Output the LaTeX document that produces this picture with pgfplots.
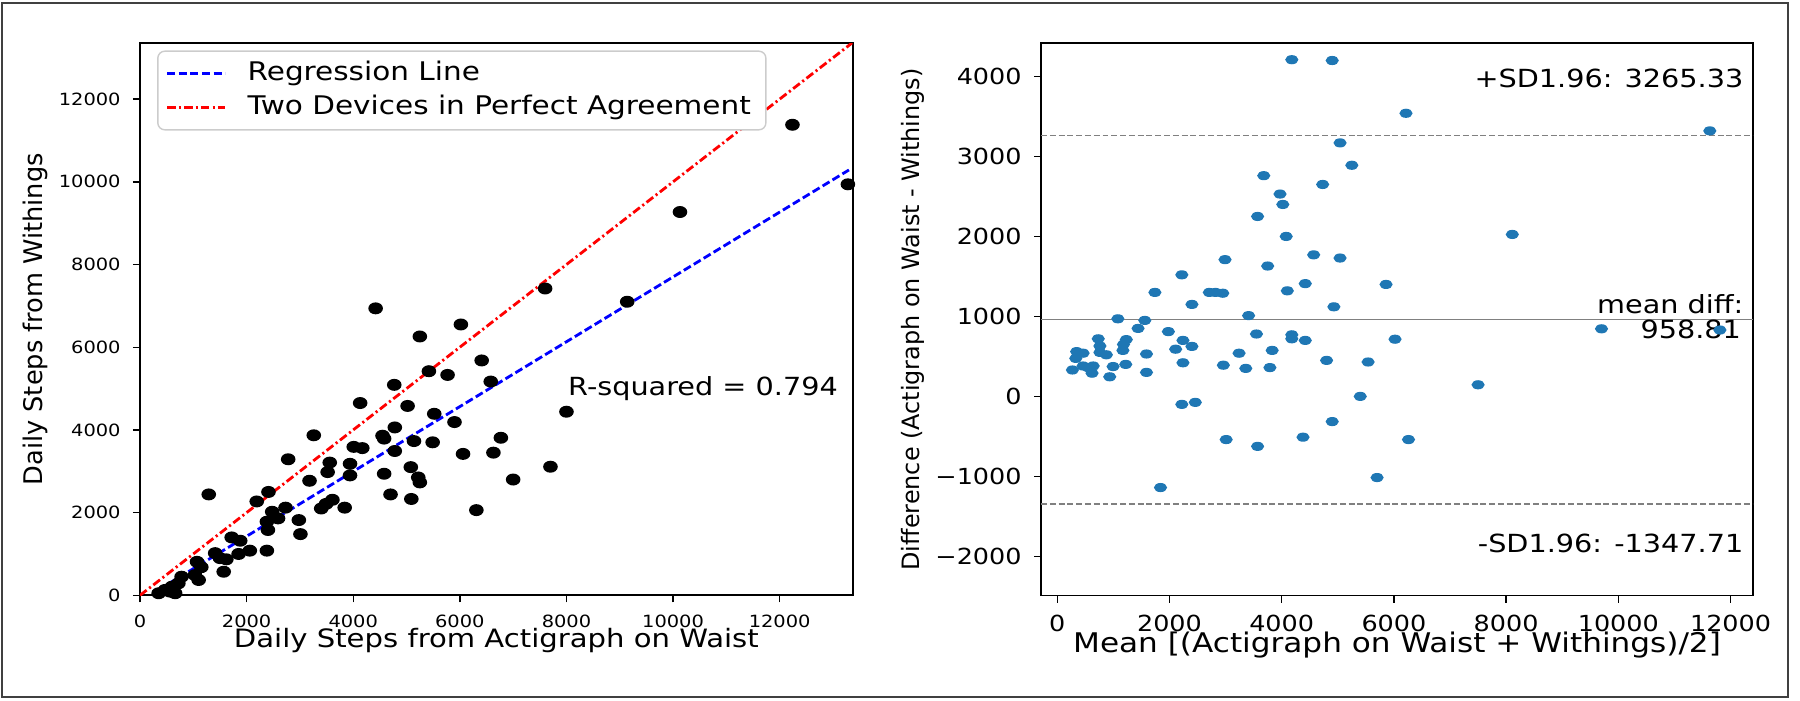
\documentclass[border=0pt]{standalone}
\usepackage{fontspec}
\setmainfont{DejaVu Sans}[FakeStretch=1.15]
\newfontfamily\ylabfont{DejaVu Sans}
\usepackage{pgfplots}
\pgfplotsset{compat=1.18}
\definecolor{mplblue}{HTML}{1F77B4}

\begin{document}
\begin{tikzpicture}
\useasboundingbox (0,0) rectangle (18,7);
\draw[line width=0.7pt, black!75] (0.02,0.03) rectangle (17.88,6.97);

% ---- left: Withings vs Actigraph ----
\begin{axis}[
  at={(1.40cm,1.047cm)}, anchor=south west,
  scale only axis, width=7.127cm, height=5.52cm,
  xmin=0, xmax=13370, ymin=0, ymax=13350,
  scaled ticks=false,
  xtick={0,2000,...,12000}, ytick={0,2000,...,12000},
  xticklabels={0,2000,4000,6000,8000,10000,12000},
  yticklabels={0,2000,4000,6000,8000,10000,12000},
  tick align=outside, major tick length=0.07cm,
  tick style={black, line width=0.4pt},
  xtick pos=bottom, ytick pos=left,
  axis line style={line width=0.5pt},
  ticklabel style={font=\fontsize{4.8}{5}\selectfont},
  xlabel={Daily Steps from Actigraph on Waist},
  xlabel style={at={(axis description cs:0.5,-0.094)}, anchor=base, font=\fontsize{7.2}{8}\selectfont},
  ylabel={Daily Steps from Withings},
  ylabel style={at={(axis description cs:-0.147,0.5)}, anchor=center, font=\ylabfont\fontsize{7.3}{8}\selectfont},
  legend cell align=left,
  legend image code/.code={\draw[#1] (0cm,0cm) -- (0.58cm,0cm); \path (0.72cm,0cm);},
  legend style={at={(0.024,0.987)}, anchor=north west, draw=black!20, rounded corners=2pt,
    fill=white, font=\fontsize{7.3}{8}\selectfont, inner xsep=0.08cm, inner ysep=0.03cm,
    row sep=-0.05cm},
]
\addplot[only marks, mark=*, mark size=1.5pt, mark options={fill=black, draw=black, xscale=1.25}, forget plot] coordinates {
(5250,6260) (5420,5420) (5770,5330) (6410,5680) (6580,5170) (4770,5090) (4130,4650)
(5020,4580) (5520,4390) (5900,4190) (4780,4060) (3260,3870) (4550,3860) (4580,3790)
(5140,3730) (5490,3700) (4010,3590) (4170,3560) (4780,3490) (6060,3420) (6630,3450)
(6770,3810) (2780,3290) (3560,3210) (3520,2980) (3940,3180) (3940,2900) (5080,3100)
(4580,2940) (5220,2850) (5250,2730) (7000,2800) (3180,2770) (4700,2440) (5090,2330)
(6310,2060) (1290,2440) (2190,2270) (2410,2500) (2480,2020) (2730,2120) (2590,1860)
(2380,1780) (2400,1580) (3400,2100) (3490,2210) (3610,2310) (3840,2120) (2980,1820)
(3010,1480) (2380,1080) (1720,1400) (1880,1320) (1850,1000) (2060,1080) (1410,1020)
(1500,900) (1620,870) (1570,570) (1070,810) (1150,680) (1100,370) (1030,490)
(780,450) (720,290) (600,210) (470,130) (350,50) (660,50) (560,90)
(4420,6940) (6020,6550) (12240,11380) (13280,9940) (10130,9270) (7600,7420)
(9140,7100) (8000,4440) (7700,3110)
};
\addplot[blue, line width=0.8pt, dash pattern=on 2.3pt off 1pt] coordinates {(350,134) (13300,10287)};
\addlegendentry{Regression Line}
\addplot[red, line width=0.8pt, dash pattern=on 2.4pt off 0.9pt on 0.6pt off 0.9pt] coordinates {(0,0) (13370,13370)};
\addlegendentry{Two Devices in Perfect Agreement}
\node[anchor=base west, inner sep=0pt, font=\fontsize{7.1}{8}\selectfont] at (axis cs:8020,4843) {R-squared = 0.794};
\end{axis}

% ---- right: Bland-Altman ----
\begin{axis}[
  at={(10.41cm,1.045cm)}, anchor=south west,
  scale only axis, width=7.12cm, height=5.522cm,
  xmin=-290, xmax=12400, ymin=-2490, ymax=4415,
  scaled ticks=false,
  xtick={0,2000,...,12000}, ytick={-2000,-1000,...,4000},
  xticklabels={0,2000,4000,6000,8000,10000,12000},
  yticklabels={−2000,−1000,0,1000,2000,3000,4000},
  tick align=outside, major tick length=0.07cm,
  tick style={black, line width=0.4pt},
  xtick pos=bottom, ytick pos=left,
  axis line style={line width=0.5pt},
  ticklabel style={font=\fontsize{6.3}{7}\selectfont},
  xlabel={Mean [(Actigraph on Waist + Withings)/2]},
  xlabel style={at={(axis description cs:0.5,-0.104)}, anchor=base, font=\fontsize{7.7}{8}\selectfont},
  ylabel={Difference (Actigraph on Waist - Withings)},
  ylabel style={at={(axis description cs:-0.18,0.5)}, anchor=center, font=\ylabfont\fontsize{6.8}{8}\selectfont},
]
\addplot[only marks, mark=*, mark size=1.1pt, mark options={fill=mplblue, draw=mplblue, xscale=1.5}] coordinates {
(4180,4210) (4900,4200) (5040,3170) (5250,2890) (3680,2760) (4730,2650) (3970,2530)
(4020,2400) (3570,2250) (4080,2000) (2990,1710) (4570,1770) (5040,1730) (3750,1630)
(2220,1520) (1740,1300) (2710,1300) (2820,1300) (2950,1290) (4420,1410) (4100,1320)
(2400,1150) (4930,1120) (3410,1010) (1080,970) (1560,950) (1440,850) (1980,810)
(3550,780) (4180,770) (4180,720) (4420,700) (730,720) (1230,710) (1180,650)
(2240,700) (2400,625) (2110,590) (760,630) (1170,575) (1590,530) (3240,540)
(3830,575) (345,560) (460,540) (760,550) (875,520)
(270,330) (330,475) (460,380) (550,360) (620,290) (640,380) (935,245) (995,373)
(1220,400) (1590,300) (2240,420) (2220,-100) (2460,-75) (2960,390) (3360,350)
(3790,360) (3010,-540) (3570,-625) (1840,-1140) (4380,-510) (4900,-315) (5400,0)
(4800,450) (5540,430) (5700,-1015)
(6215,3540) (11630,3320) (8110,2025) (5860,1400) (9700,845) (11810,830) (6020,715)
(7500,145) (6260,-540)
};
\addplot[gray, line width=0.45pt] coordinates {(-290,958.81) (12400,958.81)};
\addplot[gray, line width=0.4pt, dash pattern=on 1.7pt off 0.8pt] coordinates {(-290,3265.33) (12400,3265.33)};
\addplot[gray, line width=0.4pt, dash pattern=on 1.7pt off 0.8pt] coordinates {(-290,-1347.71) (12400,-1347.71)};
\begin{scope}[every node/.style={anchor=base east, inner sep=0pt, font=\fontsize{7.1}{8}\selectfont}]
\node at (axis cs:12240,3858) {+SD1.96: 3265.33};
\node at (axis cs:12240,1035) {mean diff:};
\node at (axis cs:12197,724) {958.81};
\node at (axis cs:12240,-1955) {-SD1.96: -1347.71};
\end{scope}
\end{axis}
\end{tikzpicture}
\end{document}
